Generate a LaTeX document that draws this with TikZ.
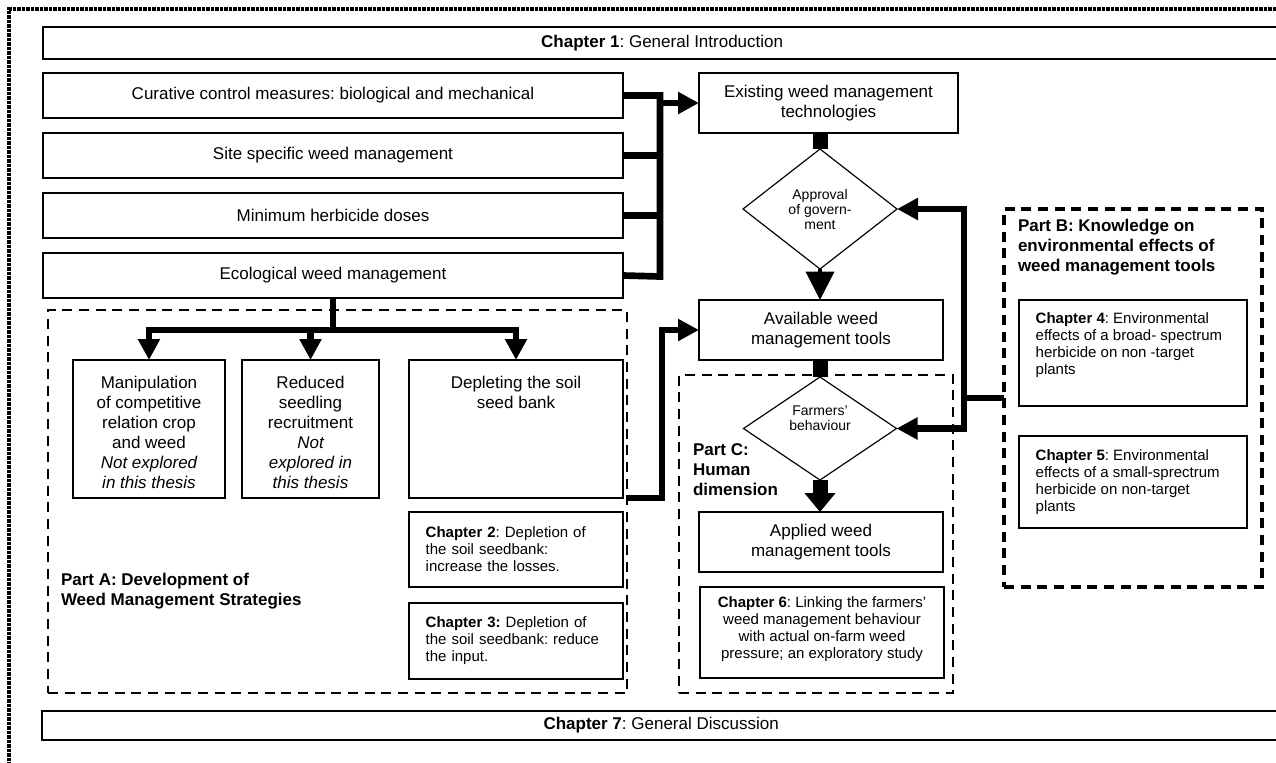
\documentclass[tikz,border=0pt]{standalone}
\usepackage{fontspec}
\setmainfont{Liberation Sans}
\usepackage{tikz}
\usetikzlibrary{arrows.meta, positioning, shapes.geometric}
\frenchspacing

\newcommand{\mainsize}{\fontsize{10.2}{12}\selectfont}
\newcommand{\chapsize}{\fontsize{9}{10.2}\selectfont}
\newcommand{\dsize}{\fontsize{8.4}{9}\selectfont}

\begin{document}
\begin{tikzpicture}[x=0.6pt, y=-0.6pt,
    every node/.style={inner sep=0pt, outer sep=0pt},
    block/.style={draw, line width=0.7pt, font=\mainsize, align=center},
    leftbox/.style={block, minimum width=348pt, minimum height=27pt},
    midbox/.style={block, minimum width=146.4pt, minimum height=36pt},
    topbox/.style={draw, line width=0.7pt, font=\mainsize},
    longbox/.style={draw, line width=1pt, font=\mainsize, anchor=west, minimum width=743pt},
    chapbox/.style={draw, line width=0.7pt, font=\chapsize, inner xsep=10pt},
    decision/.style={diamond, draw, line width=0.7pt, font=\dsize, align=center, aspect=1.3},
    partbox/.style={draw, line width=1.3pt, dash pattern=on 6pt off 4pt},
    parttitle/.style={font=\mainsize\bfseries, align=left, anchor=north west},
    outerframe/.style={line width=2pt, dash pattern=on 2pt off 0.7pt},
    conn/.style={line width=4pt, line join=miter},
    arr/.style={conn, -{Triangle[length=12.6pt, width=12.6pt]}},
    stub/.style={line width=9pt}]
    \useasboundingbox (0,0) rectangle (1276,762);
    \draw[outerframe] (9,770) -- (9,9) -- (1285,9);

    \node[partbox, minimum width=347.4pt, minimum height=229.8pt] (partA) at (337.5,501.5) {};
    \node[partbox, line width=2pt, minimum width=154.8pt, minimum height=226.8pt] (partB) at (1133,398) {};
    \node[partbox, minimum width=164.4pt, minimum height=190.8pt] (partC) at (816,534) {};
    \node[parttitle] (titleA) at (61,573) {Part A: Development of\\Weed Management Strategies};
    \node[parttitle] (titleB) at (1018,219) {Part B: Knowledge on\\environmental effects of\\weed management tools};
    \node[parttitle] (titleC) at (693,444) {Part C:\\Human\\dimension};

    \node[longbox, minimum height=19.2pt] (ch1) at (43,43) {\textbf{Chapter 1}: General Introduction};
    \node[leftbox] (curative) at (333,95.5) {Curative control measures: biological and mechanical};
    \node[leftbox, below=9pt of curative] (site) {Site specific weed management};
    \node[leftbox, below=9pt of site] (minimum) {Minimum herbicide doses};
    \node[leftbox, below=9pt of minimum] (ecological) {Ecological weed management};

    \node[block, minimum width=155.4pt, minimum height=36pt] (existing) at (828.5,103) {Existing weed management\\technologies};
    \node[decision, minimum width=92.4pt, minimum height=72pt] (approval) at (820,209) {Approval\\of govern-\\ment};
    \node[midbox] (available) at (821,330) {Available weed\\management tools};
    \node[decision, minimum width=91.8pt, minimum height=61.8pt] (farmers) at (820,428.5) {Farmers'\\behaviour\\[3pt]};
    \node[midbox] (applied) at (821,542) {Applied weed\\management tools};
    \node[chapbox, anchor=north] (ch6) at (822,587) {\parbox[c][54.6pt][t]{126.4pt}{\centering\rule{0pt}{12pt}\textbf{Chapter 6}: Linking the farmers'\\weed management behaviour\\with actual on-farm weed\\pressure; an exploratory study}};

    \node[topbox] (manip) at (149,429) {\parbox[c][82.8pt][t]{91.2pt}{\centering\rule{0pt}{16.8pt}Manipulation\\of competitive\\relation crop\\and weed\\\textit{Not explored\\in this thesis}}};
    \node[topbox] (reduced) at (310.5,429) {\parbox[c][82.8pt][t]{82.2pt}{\centering\rule{0pt}{16.8pt}Reduced\\seedling\\recruitment\\\textit{Not\\explored in\\this thesis}}};
    \node[topbox] (deplete) at (516,429) {\parbox[c][82.8pt][t]{128.4pt}{\centering\rule{0pt}{16.8pt}Depleting the soil\\seed bank}};
    \node[chapbox, align=left, text width=108.4pt, minimum height=45pt, below=8.4pt of deplete] (ch2) {\textbf{Chapter 2}: Depletion of\\the soil seedbank:\\increase the losses.};
    \node[chapbox, align=left, text width=108.4pt, minimum height=45.6pt, below=9.6pt of ch2] (ch3) {\textbf{Chapter 3:} Depletion of\\the soil seedbank: reduce\\the input.};

    \node[chapbox, anchor=north west] (ch4) at (1019,300) {\parbox[c][63.6pt][t]{116.8pt}{\raggedright\rule{0pt}{14.3pt}\textbf{Chapter 4}: Environmental\\effects of a broad- spectrum\\herbicide on non -target\\plants}};
    \node[chapbox, below=18pt of ch4] (ch5) {\parbox[c][55.2pt][t]{116.8pt}{\raggedright\rule{0pt}{14.9pt}\textbf{Chapter 5}: Environmental\\effects of a small-sprectrum\\herbicide on non-target\\plants}};

    \node[longbox, minimum height=17.4pt] (ch7) at (42,725.5) {\textbf{Chapter 7}: General Discussion};

    \coordinate (bartop) at (660,95.5);
    \coordinate (barbot) at (660,276.5);
    \draw[conn] (curative.east) -- (bartop) -- (barbot) -- (ecological.east);
    \draw[conn] (site.east) -- (site.east -| bartop);
    \draw[conn] (minimum.east) -- (minimum.east -| bartop);
    \draw[arr] (existing.west -| bartop) -- (existing.west);

    \draw[stub] (approval.north |- existing.south) -- (approval.north);
    \draw[line width=2pt, -{Triangle[length=17pt, width=16.8pt]}] (approval.south) -- (approval.south |- available.north);
    \draw[stub] (approval.south |- available.south) -- (farmers.north);
    \draw[stub, -{Triangle[length=11.4pt, width=18pt]}] (farmers.south) -- (farmers.south |- applied.north);

    \coordinate (split) at (333,330);
    \draw[conn] (ecological.south) -- (split);
    \draw[arr] (split) -| (manip.north);
    \draw[arr] (split) -| (reduced.north);
    \draw[arr] (split) -| (deplete.north);
    \draw[arr] (deplete.south -| partA.east) -- ++(35,0) |- (available.west);

    \coordinate (fork) at (964,398);
    \draw[conn] (partB.west) -- (fork);
    \draw[arr] (fork) |- (approval.east);
    \draw[arr] (fork) |- (farmers.east);
\end{tikzpicture}
\end{document}
